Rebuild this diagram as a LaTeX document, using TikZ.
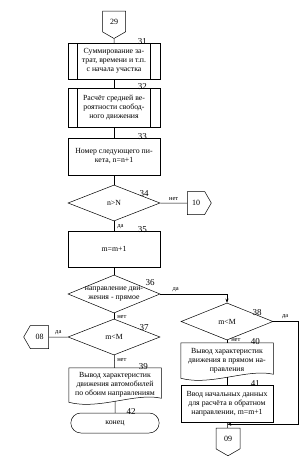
\documentclass[tikz,border=0pt]{standalone}
\usepackage{fontspec}
\setmainfont{Liberation Serif}
\usetikzlibrary{calc, shapes.geometric, shapes.symbols, shapes.misc, arrows.meta}

\begin{document}
\begin{tikzpicture}[x=1pt, y=-1pt, line width=0.5pt,
  font=\fontsize{7.8}{9}\selectfont,
  box/.style={draw, rectangle, minimum width=92pt, minimum height=36pt,
    align=center, inner sep=1pt},
  subr/.style={box, path picture={
    \draw ([xshift=9pt]path picture bounding box.north west)
       -- ([xshift=9pt]path picture bounding box.south west);
    \draw ([xshift=-10pt]path picture bounding box.north east)
       -- ([xshift=-10pt]path picture bounding box.south east);}},
  doc/.style={box, draw=none},
  cond/.style={draw, diamond, aspect=2.5, minimum width=92pt,
    minimum height=37pt, inner sep=0pt, align=center},
  term/.style={draw, rounded rectangle, minimum width=95pt, minimum height=20pt},
  conn/.style={draw, signal, signal pointer angle=120, minimum width=23pt,
    minimum height=23pt, inner sep=0pt, font=\fontsize{8}{8}\selectfont},
  num/.style={font=\fontsize{9}{9}\selectfont, inner sep=0pt},
  lbl/.style={font=\fontsize{6.5}{7}\selectfont, inner sep=1pt},
  >={Stealth[length=4pt, width=3pt]}]

  \useasboundingbox (0,0) rectangle (307,456);

  % левая колонка
  \node[conn, signal to=south] (c29) at (114,21.5) {29};
  \node[subr] (b31) at (114,61) {Суммирование за-\\трат, времени и т.п.\\с начала участка};
  \node[subr, minimum height=39pt] (b32) at (114,107.5) {Расчёт средней ве-\\роятности свобод-\\ного движения};
  \node[box, minimum height=37pt] (b33) at (114,156.5) {Номер следующего пи-\\кета, n=n+1};
  \node[cond, minimum height=36pt] (b34) at (114,203) {n>N};
  \node[conn, signal to=east, minimum width=24pt] (c10) at (196,203) {10};
  \node[box] (b35) at (114,249) {m=m+1};
  \node[cond, minimum height=38pt, inner sep=-2pt] (b36) at (114,294) {направление дви-\\жения - прямое};
  \node[cond, minimum height=36pt] (b37) at (114,337) {m<M};
  \node[conn, signal to=west, minimum width=25pt] (c08) at (39.5,337) {08};
  \node[doc, minimum height=34pt] (b39) at (115,385) {Вывод характеристик\\движения автомобилей\\по обоим направлениям};
  \node[term] (b42) at (115,423) {конец};

  % правая колонка
  \node[cond] (b38) at (227,321.5) {m<M};
  \node[doc, minimum height=35pt] (b40) at (227,360.5) {Вывод характеристик\\движения в прямом на-\\правления};
  \node[box, minimum height=37pt] (b41) at (227,403.5) {Ввод начальных данных\\для расчёта в обратном\\направлении, m=m+1};
  \node[conn, signal to=south, minimum width=24pt] (c09) at (228,438.5) {09};

  % документы с волнистым низом
  \foreach \d in {b39,b40}
    \draw (\d.north west) -- (\d.north east) -- ([yshift=4pt]\d.south east)
      .. controls ($(\d.south east)+(-25,-10)$) and ($(\d.south west)+(30,8)$)
      .. (\d.south west) -- cycle;

  % номера блоков
  \foreach \n in {31,32,33,35,39,40,41,42}
    \node[num] (n\n) at ([xshift=-18pt,yshift=1pt]b\n.north east) {\n};
  \foreach \n in {34,37,38}
    \node[num] (n\n) at ([xshift=30pt,yshift=9pt]b\n.center) {\n};
  \node[num] (n36) at ([xshift=36pt,yshift=11pt]b36.center) {36};

  % связи
  \draw (c29) -- (b31);
  \draw (b31) -- (b32);
  \draw (b32) -- (b33);
  \draw (b33) -- (b34);
  \draw (b34) -- (c10);
  \draw (b34) -- (b35);
  \draw (b35) -- (b36);
  \draw (b36) -- (b37);
  \draw (b37) -- (c08);
  \draw (b37) -- (b39);
  \draw ([yshift=1.5pt]b39.south) -- (b42);
  \draw[->] (b36.east) -| (b38.north);
  \draw (b38) -- (b40);
  \draw ([yshift=1.5pt]b40.south) -- (b41);
  \draw (b41) -- (c09);
  \coordinate (j09) at ($(b41.south)!0.35!(c09.north)$);
  \draw[->] (b38.east) -- ++(25,0) |- (j09);

  % да / нет
  \node[lbl, anchor=west] (y34) at ([xshift=2pt,yshift=-5pt]b34.south) {да};
  \node[lbl, anchor=south] (x34) at ([yshift=1pt]$(b34.east)!0.5!(c10.west)$) {нет};
  \node[lbl, anchor=south] (y36) at ([yshift=1pt]$(b36.east)!0.23!(b36.east -| b38.north)$) {да};
  \node[lbl, anchor=west] (x36) at ([xshift=2pt,yshift=-4pt]b36.south) {нет};
  \node[lbl, anchor=south] (y37) at ([yshift=1pt]$(b37.west)!0.5!(c08.east)$) {да};
  \node[lbl, anchor=west] (x37) at ([xshift=2pt,yshift=-5pt]b37.south) {нет};
  \node[lbl, anchor=south] (y38) at ([xshift=12pt,yshift=1pt]b38.east) {да};
  \node[lbl, anchor=west] (x38) at ([xshift=3pt,yshift=0pt]b38.south) {нет};
\end{tikzpicture}
\end{document}
